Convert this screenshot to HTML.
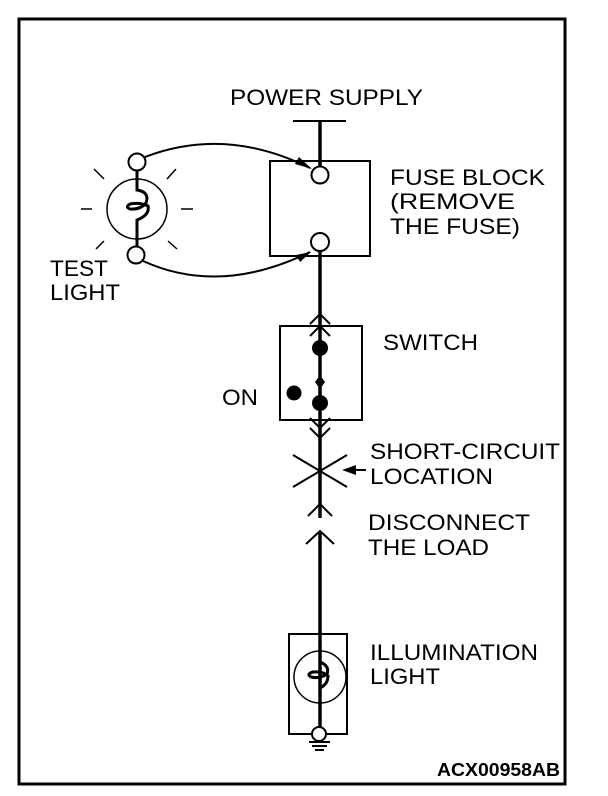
<!DOCTYPE html>
<html><head><meta charset="utf-8"><style>
html,body{margin:0;padding:0;background:#fff;}
svg{display:block}
text{font-family:"Liberation Sans",sans-serif;font-size:22px;fill:#000;}
</style></head><body>
<svg width="608" height="796" viewBox="0 0 608 796" xmlns="http://www.w3.org/2000/svg">
<rect x="19" y="19" width="546" height="765" fill="none" stroke="#000" stroke-width="3"/>
<text x="230" y="105" textLength="193" lengthAdjust="spacingAndGlyphs">POWER SUPPLY</text>
<line x1="293" y1="121" x2="346" y2="121" stroke="#000" stroke-width="2"/>
<line x1="320" y1="121" x2="320" y2="166" stroke="#000" stroke-width="3.5"/>
<rect x="270" y="161" width="100" height="95" fill="none" stroke="#000" stroke-width="2"/>
<circle cx="320" cy="175" r="8.5" fill="#fff" stroke="#000" stroke-width="2"/>
<circle cx="320" cy="242" r="9" fill="#fff" stroke="#000" stroke-width="2"/>
<text x="390" y="185" textLength="155" lengthAdjust="spacingAndGlyphs">FUSE BLOCK</text>
<text x="390" y="209" textLength="125" lengthAdjust="spacingAndGlyphs">(REMOVE</text>
<text x="390" y="234" textLength="130" lengthAdjust="spacingAndGlyphs">THE FUSE)</text>
<circle cx="137" cy="209" r="30" fill="none" stroke="#000" stroke-width="1.5"/>
<path d="M137 171 V190 Q150 192 146 203 Q140 210 130 209 Q125 207 130 204 Q140 202 148 206 Q150 215 137 220 V248" fill="none" stroke="#000" stroke-width="3"/>
<circle cx="137" cy="162" r="8.5" fill="#fff" stroke="#000" stroke-width="2"/>
<circle cx="136" cy="255" r="8.5" fill="#fff" stroke="#000" stroke-width="2"/>
<g stroke="#000" stroke-width="1.5">
<line x1="94" y1="169" x2="104" y2="179"/><line x1="167" y1="179" x2="176" y2="169"/>
<line x1="81" y1="209" x2="92" y2="209"/><line x1="181" y1="209" x2="193" y2="209"/>
<line x1="96" y1="249" x2="104" y2="241"/><line x1="168" y1="241" x2="177" y2="249"/>
</g>
<text x="50" y="276" textLength="58" lengthAdjust="spacingAndGlyphs">TEST</text>
<text x="50" y="300" textLength="70" lengthAdjust="spacingAndGlyphs">LIGHT</text>
<path d="M145 157 Q225 126 310 168" fill="none" stroke="#000" stroke-width="2"/>
<path d="M312 169 L299 157 L295 164 Z" fill="#000"/>
<path d="M143 261 Q220 296 310 252" fill="none" stroke="#000" stroke-width="2"/>
<path d="M311 252 L296 255 L300 262 Z" fill="#000"/>
<line x1="320" y1="251" x2="320" y2="518" stroke="#000" stroke-width="3.5"/>
<line x1="320" y1="532" x2="320" y2="735" stroke="#000" stroke-width="3.5"/>
<g fill="none" stroke="#000" stroke-width="2">
<polyline points="310,324 320,314 330,324"/>
<polyline points="310,336 320,326 330,336"/>
<polyline points="310,418 320,428 330,418"/>
<polyline points="310,428 320,438 330,428"/>
<polyline points="308,516 320,504 332,516"/>
<polyline points="306,544 320,531 334,544"/>
<line x1="293" y1="455" x2="347" y2="487"/>
<line x1="293" y1="487" x2="347" y2="455"/>
</g>
<path d="M342 470 L356 465 L356 475 Z" fill="#000"/>
<line x1="350" y1="470" x2="366" y2="470" stroke="#000" stroke-width="2"/>
<rect x="280" y="326" width="82" height="94" fill="none" stroke="#000" stroke-width="2"/>
<circle cx="320" cy="348" r="8" fill="#000"/>
<circle cx="320" cy="403" r="8" fill="#000"/>
<circle cx="294" cy="393" r="7.5" fill="#000"/>
<path d="M320 375 L315 382 L320 389 L325 382 Z" fill="#000"/>
<text x="383" y="350" textLength="95" lengthAdjust="spacingAndGlyphs">SWITCH</text>
<text x="222" y="405" textLength="36" lengthAdjust="spacingAndGlyphs">ON</text>
<text x="370" y="459" textLength="190" lengthAdjust="spacingAndGlyphs">SHORT-CIRCUIT</text>
<text x="370" y="484" textLength="123" lengthAdjust="spacingAndGlyphs">LOCATION</text>
<text x="368" y="530" textLength="162" lengthAdjust="spacingAndGlyphs">DISCONNECT</text>
<text x="368" y="555" textLength="121" lengthAdjust="spacingAndGlyphs">THE LOAD</text>
<rect x="289" y="634" width="58" height="100" fill="none" stroke="#000" stroke-width="2"/>
<circle cx="320" cy="677" r="26" fill="none" stroke="#000" stroke-width="1.5"/>
<path d="M320 640 V662 Q330 666 327 674 Q320 679 311 677 Q306 674 313 672 Q323 671 328 676 Q328 684 320 688 V725" fill="none" stroke="#000" stroke-width="3"/>
<circle cx="319" cy="734" r="7" fill="#fff" stroke="#000" stroke-width="2"/>
<g stroke="#000" stroke-width="2">
<line x1="309" y1="742" x2="330" y2="742"/>
<line x1="312" y1="746" x2="327" y2="746"/>
<line x1="315" y1="750" x2="324" y2="750"/>
</g>
<text x="370" y="660" textLength="168" lengthAdjust="spacingAndGlyphs">ILLUMINATION</text>
<text x="370" y="684" textLength="70" lengthAdjust="spacingAndGlyphs">LIGHT</text>
<text x="437" y="776" textLength="123" lengthAdjust="spacingAndGlyphs" style="font-weight:bold;font-size:18px">ACX00958AB</text>
</svg>
</body></html>
